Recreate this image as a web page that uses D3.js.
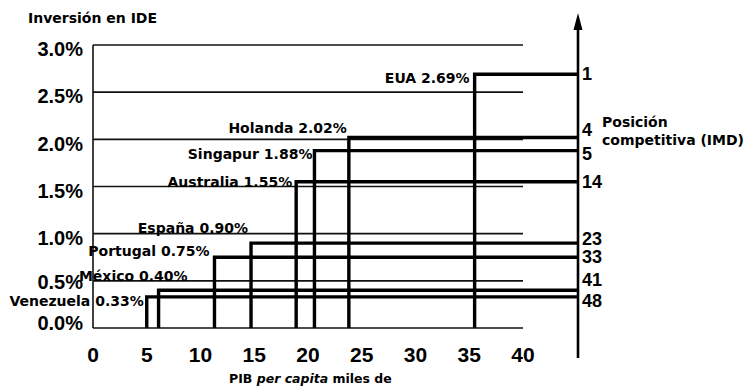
<!DOCTYPE html>
<html>
<head>
<meta charset="utf-8">
<script src="https://cdn.jsdelivr.net/npm/d3@7"></script>
<style>
  html, body { margin: 0; padding: 0; background: #fff; }
  svg { display: block; }
</style>
</head>
<body>
<script>
// ---- data ----
const countries = ["Venezuela", "México", "Portugal", "España", "Australia", "Singapur", "Holanda", "EUA"];
const gdpPerCapita = [5.0, 6.1, 11.3, 14.7, 18.9, 20.6, 23.8, 35.5];   // miles de USD
const fdiShare = [0.33, 0.40, 0.75, 0.90, 1.55, 1.88, 2.02, 2.69];     // % inversión en IDE
const imdRank = [48, 41, 33, 23, 14, 5, 4, 1];                          // posición competitiva
const yTicks = [0, 0.5, 1.0, 1.5, 2.0, 2.5, 3.0];
const xTicks = [0, 5, 10, 15, 20, 25, 30, 35, 40];

// ---- layout (label nudges, px) ----
const labelNudge = [[-3, 9], [29, -9], [-5, -1], [-3, -10], [-4, 5], [-2, 8], [-2, -4], [-5, 9]];
const rankNudge = [4, -11, -1, -5, 0, 3, -8, -1];

const W = 746, H = 386;
const svg = d3.select("body").append("svg").attr("width", W).attr("height", H);

const x = d3.scaleLinear().domain([0, 40]).range([93, 523]);
const y = d3.scaleLinear().domain([0, 3]).range([328, 45]);
const rightAxisX = 578;

const tickFont = "'Liberation Sans', Arial, Helvetica, sans-serif";
const labelFont = "'DejaVu Sans', Verdana, sans-serif";

// grid lines
svg.append("g").selectAll("line").data(yTicks).join("line")
  .attr("x1", x(0)).attr("x2", x(40))
  .attr("y1", d => y(d)).attr("y2", d => y(d))
  .attr("stroke", "#111").attr("stroke-width", 1.6);

// left axis line
svg.append("line")
  .attr("x1", x(0)).attr("x2", x(0)).attr("y1", y(0)).attr("y2", y(3))
  .attr("stroke", "#111").attr("stroke-width", 1.6);

// y tick labels
svg.append("g").selectAll("text").data(yTicks).join("text")
  .attr("x", 83).attr("y", d => y(d) + (d === 0 ? -5 : d === 0.5 ? 1 : 4))
  .attr("dy", "0.36em")
  .attr("text-anchor", "end")
  .attr("font-family", tickFont).attr("font-weight", "bold").attr("font-size", 20)
  .attr("fill", "#000")
  .text(d => d.toFixed(1) + "%");

// x tick labels
svg.append("g").selectAll("text").data(xTicks).join("text")
  .attr("x", d => x(d)).attr("y", 362)
  .attr("text-anchor", "middle")
  .attr("font-family", tickFont).attr("font-weight", "bold").attr("font-size", 21)
  .attr("fill", "#000")
  .text(d => d);

// data: vertical + horizontal step lines
const idx = d3.range(countries.length);
const g = svg.append("g").attr("fill", "none").attr("stroke", "#000").attr("stroke-width", 3.4);
g.selectAll("path").data(idx).join("path")
  .attr("d", i => `M${x(gdpPerCapita[i])},${y(0)}V${y(fdiShare[i])}H${rightAxisX}`)
  .attr("stroke-linejoin", "miter");

// right axis with arrow
svg.append("line")
  .attr("x1", rightAxisX).attr("x2", rightAxisX).attr("y1", 26).attr("y2", 358)
  .attr("stroke", "#000").attr("stroke-width", 2.6);
svg.append("path")
  .attr("d", `M${rightAxisX},13L${rightAxisX - 4.5},30L${rightAxisX + 4.5},30Z`)
  .attr("fill", "#000");

// country labels
svg.append("g").selectAll("text").data(idx).join("text")
  .attr("x", i => x(gdpPerCapita[i]) + labelNudge[i][0])
  .attr("y", i => y(fdiShare[i]) + labelNudge[i][1])
  .attr("text-anchor", "end")
  .attr("font-family", labelFont).attr("font-weight", "bold").attr("font-size", 14)
  .attr("fill", "#000")
  .text(i => `${countries[i]} ${fdiShare[i].toFixed(2)}%`);

// rank labels
svg.append("g").selectAll("text").data(idx).join("text")
  .attr("x", rightAxisX + 4)
  .attr("y", i => y(fdiShare[i]) + rankNudge[i])
  .attr("dy", "0.36em")
  .attr("font-family", tickFont).attr("font-weight", "bold").attr("font-size", 18)
  .attr("fill", "#000")
  .text(i => imdRank[i]);

// titles
svg.append("text")
  .attr("x", 28).attr("y", 23)
  .attr("font-family", labelFont).attr("font-weight", "bold").attr("font-size", 14)
  .text("Inversión en IDE");

const rt = svg.append("text")
  .attr("x", 602).attr("y", 127)
  .attr("font-family", labelFont).attr("font-weight", "bold").attr("font-size", 14);
rt.append("tspan").attr("x", 602).text("Posición");
rt.append("tspan").attr("x", 602).attr("dy", 18).text("competitiva (IMD)");

const xt = svg.append("text")
  .attr("x", 229).attr("y", 383)
  .attr("font-family", labelFont).attr("font-weight", "bold").attr("font-size", 12.5);
xt.append("tspan").text("PIB ");
xt.append("tspan").attr("font-style", "italic").text("per capita");
xt.append("tspan").text(" miles de");
</script>
</body>
</html>
